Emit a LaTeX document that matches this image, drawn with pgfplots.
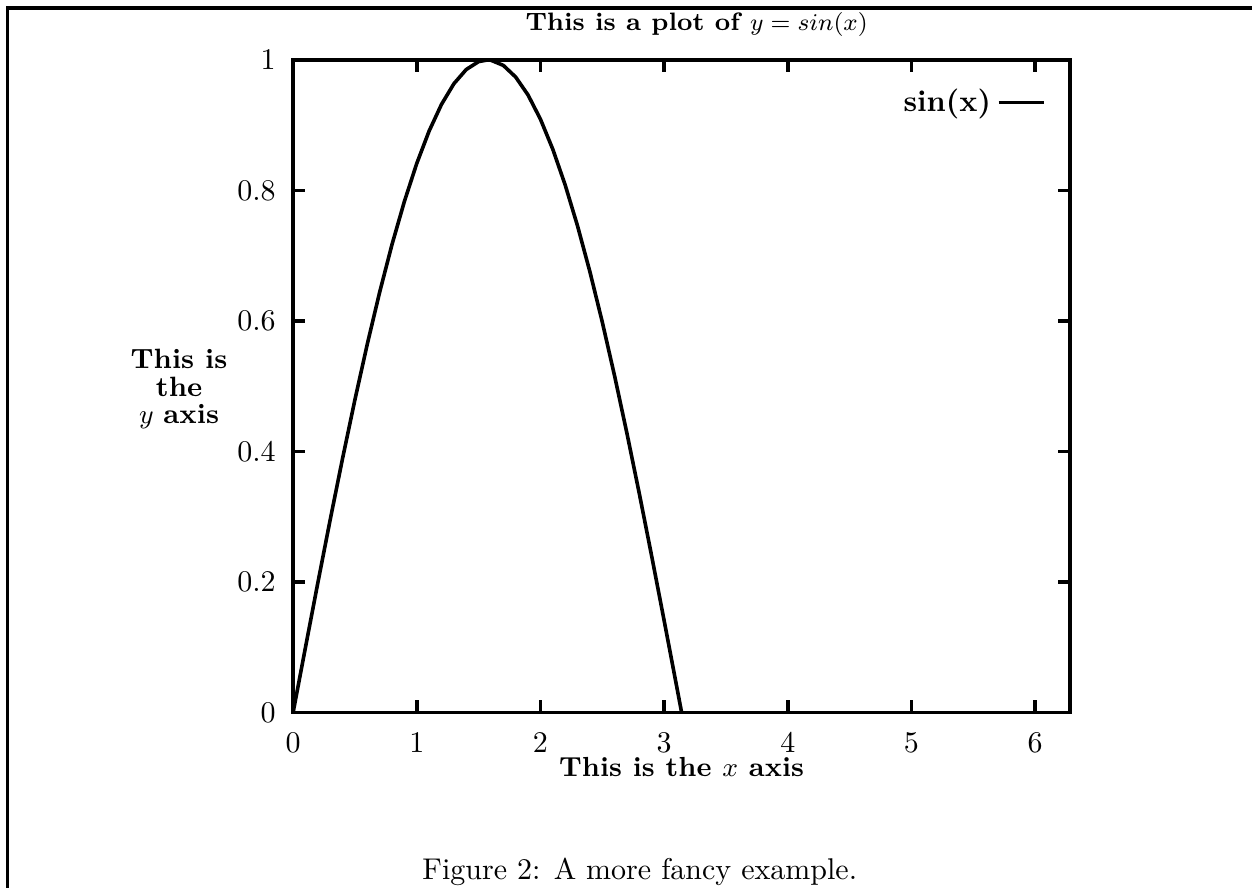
\documentclass[border=0pt]{standalone}
\usepackage{pgfplots}
\pgfplotsset{compat=1.18}
\pgfplotstableread{
x y
0.0000 0.0000
0.1000 0.0998
0.2000 0.1987
0.3000 0.2955
0.4000 0.3894
0.5000 0.4794
0.6000 0.5646
0.7000 0.6442
0.8000 0.7174
0.9000 0.7833
1.0000 0.8415
1.1000 0.8912
1.2000 0.9320
1.3000 0.9636
1.4000 0.9854
1.5000 0.9975
1.5708 1.0000
1.6000 0.9996
1.7000 0.9917
1.8000 0.9738
1.9000 0.9463
2.0000 0.9093
2.1000 0.8632
2.2000 0.8085
2.3000 0.7457
2.4000 0.6755
2.5000 0.5985
2.6000 0.5155
2.7000 0.4274
2.8000 0.3350
2.9000 0.2392
3.0000 0.1411
3.1000 0.0416
3.1416 0.0000
}\sindata
\begin{document}
\begin{tikzpicture}
\useasboundingbox (0,0) rectangle (417.33pt,296pt);
\draw[line width=1.2pt] (2.5pt,-2pt) -- (2.5pt,293.3pt) -- (420pt,293.3pt);
\begin{axis}[
  at={(97.7pt,58.5pt)}, anchor=south west,
  scale only axis, width=259pt, height=217.5pt,
  xmin=0, xmax=6.283185, ymin=0, ymax=1,
  xtick={0,1,2,3,4,5,6},
  ytick={0,0.2,0.4,0.6,0.8,1},
  yticklabels={0,0.2,0.4,0.6,0.8,1},
  tick align=inside, major tick length=4pt,
  tick style={line width=1.2pt, black},
  axis line style={line width=1.3pt, line cap=rect},
  xticklabel style={yshift=-3.2pt},
  yticklabel style={xshift=-2.3pt},
  title={\fontsize{8.4}{10}\selectfont\bfseries This is a plot of $y = sin(x)$},
  title style={at={(rel axis cs:0.5,1)}, anchor=base, yshift=3.8pt, xshift=5pt},
  xlabel={\fontsize{9.2}{10}\selectfont\bfseries This is the $x$ axis},
  xlabel style={at={(rel axis cs:0.5,0)}, anchor=base, yshift=-21.5pt},
  ylabel={\bfseries This is\\\bfseries the\\$y$ \bfseries axis},
  ylabel style={rotate=-90, align=center, font=\fontsize{9.3}{9.2}\selectfont,
    at={(rel axis cs:0,0.5)}, anchor=center, xshift=-38pt, yshift=-1pt},
  legend style={draw=none, fill=none, at={(rel axis cs:1,1)}, anchor=north east,
    xshift=-5pt, yshift=-5.5pt, font=\bfseries},
  legend plot pos=right,
  legend image code/.code={\draw[line width=1.2pt] (3pt,0pt) -- (18pt,0pt);},
]
\addplot[line width=1.2pt, black] table[x=x, y=y] {\sindata};
\addlegendentry{sin(x)}
\end{axis}
\node[anchor=base west, inner sep=0pt] at (140.6pt,2.67pt) {Figure 2: A more fancy example.};
\end{tikzpicture}
\end{document}
